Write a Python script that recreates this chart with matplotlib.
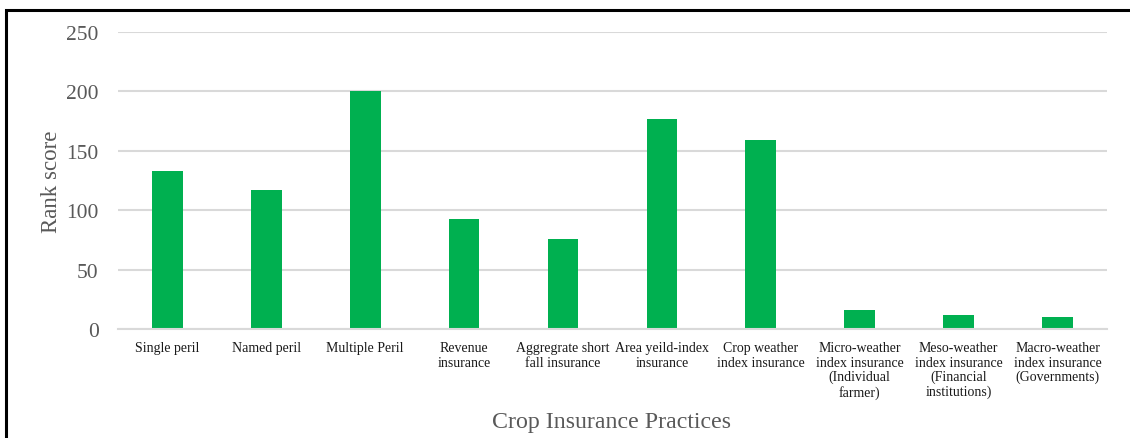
import numpy as np
import matplotlib.pyplot as plt
from matplotlib.patches import Rectangle

##############################
#  data
##############################
practices = ["Single peril", "Named peril", "Multiple Peril", "Revenue\ninsurance",
             "Aggregrate short\nfall insurance", "Area yeild-index\ninsurance",
             "Crop weather\nindex insurance",
             "Micro-weather\nindex insurance\n(Individual\nfarmer)",
             "Meso-weather\nindex insurance\n(Financial\ninstitutions)",
             "Macro-weather\nindex insurance\n(Governments)"]
rank_score = [133, 117, 200, 93, 76, 177, 159, 16, 12, 10]
yticks = [0, 50, 100, 150, 200, 250]

plt.rcParams['font.family'] = ['Liberation Serif', 'DejaVu Serif']

fig = plt.figure(figsize=(11.3, 4.39), dpi=100)
ax = fig.add_axes([0.1044, 0.2483, 0.8752, 0.6765])

x = np.arange(len(practices))
ax.bar(x, rank_score, width=0.31, color='#00B050', zorder=2)

ax.set_xlim(-0.5, len(practices) - 0.5)
ax.set_ylim(0, 250)
ax.set_yticks(yticks)
ax.set_xticks(x)
ax.set_xticklabels(practices, fontsize=10, color='#1a1a1a', linespacing=1.12)
ax.tick_params(axis='x', length=0, pad=9)
ax.tick_params(axis='y', length=0, pad=14, labelsize=15.5, labelcolor='#595959')
ax.yaxis.grid(True, color='#d9d9d9', lw=1.5, zorder=0)
for s in ['top', 'right', 'left']:
	ax.spines[s].set_visible(False)
ax.spines['bottom'].set_color('#d9d9d9')
ax.spines['bottom'].set_linewidth(1.5)

ax.set_ylabel("Rank score", fontsize=16.5, color='#595959', labelpad=3)
fig.text(0.541, 0.038, "Crop Insurance Practices", fontsize=17.2, color='#595959',
         ha='center', va='center')

#-- outer frame (left and top edges only show)
fig.patches.append(Rectangle((6/1130, -0.1), 1.2, 1 - 11/439 + 0.1, transform=fig.transFigure,
                             fill=False, ec='black', lw=2.2))

plt.savefig("out.png", dpi=100)
